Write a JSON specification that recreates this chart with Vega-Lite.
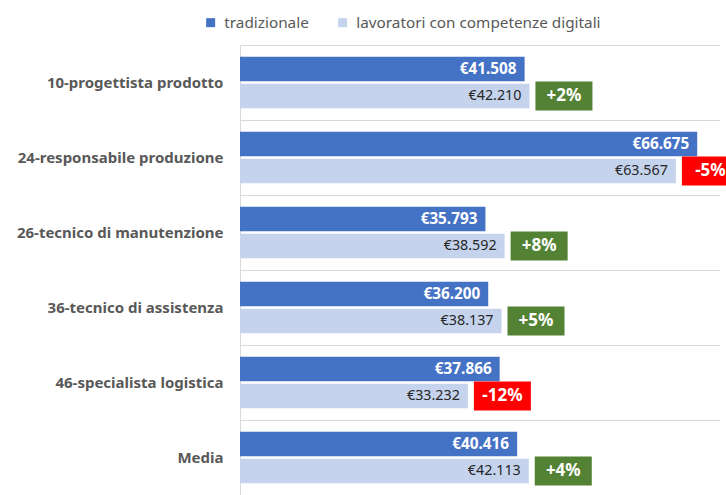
{
  "$schema": "https://vega.github.io/schema/vega-lite/v6.json",
  "width": 480,
  "height": 450,
  "autosize": {"type": "none"},
  "padding": {"left": 240, "top": 45, "right": 6, "bottom": 0},
  "background": "white",
  "config": {
    "font": "Noto Sans",
    "view": {"stroke": null},
    "locale": {"number": {"decimal": ",", "thousands": ".", "grouping": [3], "currency": ["€", ""], "minus": "-"}}
  },
  "data": {
    "values": [
      {"ruolo": "10-progettista prodotto", "tradizionale": 41508, "lavoratori con competenze digitali": 42210, "delta": 0.0169},
      {"ruolo": "24-responsabile produzione", "tradizionale": 66675, "lavoratori con competenze digitali": 63567, "delta": -0.0466},
      {"ruolo": "26-tecnico di manutenzione", "tradizionale": 35793, "lavoratori con competenze digitali": 38592, "delta": 0.0782},
      {"ruolo": "36-tecnico di assistenza", "tradizionale": 36200, "lavoratori con competenze digitali": 38137, "delta": 0.0535},
      {"ruolo": "46-specialista logistica", "tradizionale": 37866, "lavoratori con competenze digitali": 33232, "delta": -0.1224},
      {"ruolo": "Media", "tradizionale": 40416, "lavoratori con competenze digitali": 42113, "delta": 0.042}
    ]
  },
  "encoding": {
    "y": {
      "field": "ruolo",
      "type": "nominal",
      "sort": null,
      "scale": {"paddingInner": 0, "paddingOuter": 0},
      "axis": {
        "title": null,
        "ticks": false,
        "domainColor": "#d9d9d9",
        "grid": true,
        "gridColor": "#d9d9d9",
        "tickBand": "extent",
        "labelFontSize": 15,
        "labelFontWeight": "bold",
        "labelColor": "#595959",
        "labelPadding": 17,
        "labelLimit": 300
      }
    }
  },
  "layer": [
    {
      "transform": [{"fold": ["tradizionale", "lavoratori con competenze digitali"], "as": ["serie", "valore"]}],
      "mark": {"type": "bar"},
      "encoding": {
        "x": {"field": "valore", "type": "quantitative", "scale": {"domain": [0, 70000]}, "axis": null},
        "yOffset": {
          "field": "serie",
          "type": "nominal",
          "scale": {"domain": ["tradizionale", "lavoratori con competenze digitali"], "paddingInner": 0.093, "paddingOuter": 0.435}
        },
        "color": {
          "field": "serie",
          "type": "nominal",
          "scale": {"domain": ["tradizionale", "lavoratori con competenze digitali"], "range": ["#4472C4", "#C5D3EC"]},
          "legend": {
            "orient": "none",
            "legendX": -37,
            "legendY": -30,
            "direction": "horizontal",
            "title": null,
            "symbolType": "square",
            "symbolSize": 81,
            "symbolStrokeWidth": 0,
            "labelFontSize": 15.3,
            "labelColor": "#595959",
            "labelOffset": 6,
            "columnPadding": 26,
            "labelLimit": 400
          }
        }
      }
    },
    {
      "mark": {"type": "text", "align": "right", "baseline": "middle", "dx": -8, "fontSize": 15.3, "fontWeight": "bold", "color": "white"},
      "encoding": {
        "x": {"field": "tradizionale", "type": "quantitative"},
        "yOffset": {"datum": "tradizionale"},
        "text": {"field": "tradizionale", "type": "quantitative", "format": "$,.0f"}
      }
    },
    {
      "mark": {"type": "text", "align": "right", "baseline": "middle", "dx": -8, "fontSize": 14.3, "color": "#262626"},
      "encoding": {
        "x": {"field": "lavoratori con competenze digitali", "type": "quantitative"},
        "yOffset": {"datum": "lavoratori con competenze digitali"},
        "text": {"field": "lavoratori con competenze digitali", "type": "quantitative", "format": "$,.0f"}
      }
    },
    {
      "mark": {"type": "point", "shape": "M0.6,-1.45L6.3,-1.45L6.3,1.45L0.6,1.45Z", "size": 400, "filled": true, "opacity": 1, "strokeWidth": 0},
      "encoding": {
        "x": {"field": "lavoratori con competenze digitali", "type": "quantitative"},
        "yOffset": {"datum": "lavoratori con competenze digitali"},
        "fill": {"condition": {"test": "datum.delta < 0", "value": "#FF0000"}, "value": "#548235"}
      }
    },
    {
      "mark": {"type": "text", "align": "center", "baseline": "middle", "dx": 34.5, "fontSize": 17, "fontWeight": "bold", "color": "white"},
      "encoding": {
        "x": {"field": "lavoratori con competenze digitali", "type": "quantitative"},
        "yOffset": {"datum": "lavoratori con competenze digitali"},
        "text": {"field": "delta", "type": "quantitative", "format": "+.0%"}
      }
    }
  ]
}
